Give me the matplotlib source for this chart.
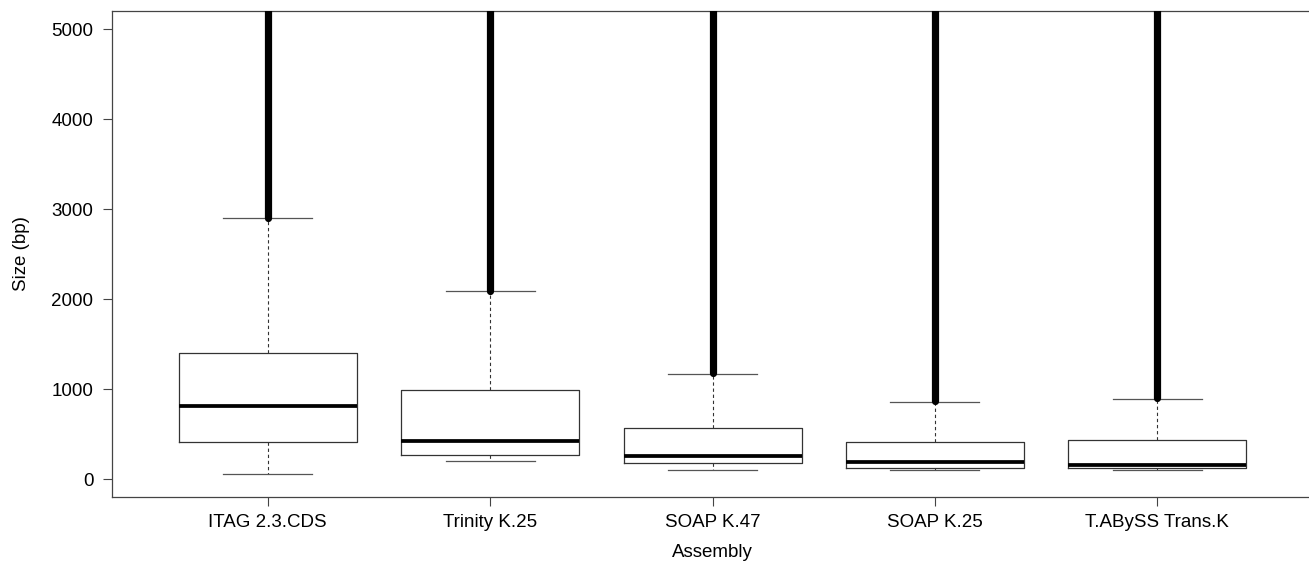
import matplotlib
matplotlib.use("Agg")
import matplotlib.pyplot as plt

# assemblies and box statistics (bp)
assemblies = ["ITAG 2.3.CDS", "Trinity K.25", "SOAP K.47", "SOAP K.25", "T.ABySS Trans.K"]
whisker_low = [60, 200, 95, 97, 97]
q1 = [411, 268, 175, 122, 125]
median = [815, 420, 252, 188, 158]
q3 = [1403, 993, 572, 415, 430]
whisker_high = [2895, 2087, 1172, 855, 890]

# outliers form a continuous column from just above the whisker
# up past the top of the plot
outlier_low = [2900, 2092, 1178, 862, 897]
outlier_high = [5400, 5400, 5400, 5400, 5400]

yticks = [0, 1000, 2000, 3000, 4000, 5000]


def plotSizes():
    plt.rcParams['font.family'] = ['Liberation Sans', 'DejaVu Sans']
    fig = plt.figure(figsize=(13.09, 5.68), dpi=100)
    ax = fig.add_axes([0.0856, 0.125, 0.9175, 0.8556])

    stats = []
    for i in range(len(assemblies)):
        stats.append({
            "label": assemblies[i],
            "whislo": whisker_low[i],
            "q1": q1[i],
            "med": median[i],
            "q3": q3[i],
            "whishi": whisker_high[i],
        })
    pos = list(range(1, len(assemblies) + 1))

    ax.bxp(stats, positions=pos, widths=0.8, showfliers=False,
           boxprops=dict(color="#333333", linewidth=0.9),
           medianprops=dict(color="black", linewidth=2.7, solid_capstyle="butt"),
           whiskerprops=dict(color="#333333", linewidth=0.8, linestyle=(0, (3, 2.5))),
           capprops=dict(color="#555555", linewidth=0.9),
           capwidths=0.4)

    # dense outlier columns
    ax.vlines(pos, outlier_low, outlier_high, color="black",
              linewidth=5.2, capstyle="round", zorder=3)

    ax.set_xlim(0.3, 5.7)
    ax.set_ylim(-200, 5200)
    ax.set_yticks(yticks)
    ax.set_xticks(pos)
    ax.set_xticklabels(assemblies)

    for s in ax.spines.values():
        s.set_color("#444444")
        s.set_linewidth(0.9)
    # right edge of the frame falls just outside the picture
    ax.spines["right"].set_visible(False)
    ax.tick_params(axis="both", direction="out", length=6.5, width=0.8,
                   color="#444444", labelsize=13.5)
    ax.tick_params(axis="x", pad=6)
    ax.tick_params(axis="y", pad=7)

    ax.set_xlabel("Assembly", fontsize=13.5, labelpad=9)
    ax.set_ylabel("Size (bp)", fontsize=13.5, labelpad=15)

    fig.savefig("out.png", dpi=100)


def main():
    plotSizes()

if __name__ == "__main__":
    main()
